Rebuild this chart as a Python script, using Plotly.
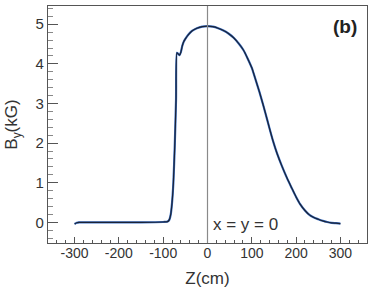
import plotly.graph_objects as go

# field map along the beam axis
z_cm = [-300, -295, -290, -250, -200, -150, -100, -90, -86, -83, -80, -77, -74, -71, -69,
        -66, -63, -60, -57, -54, -50, -43, -35, -24, -12, 0, 12, 24, 36, 48, 59, 70, 81,
        90, 100, 108, 117, 126, 135, 140, 148, 157, 168, 179, 190, 200, 209, 220, 230,
        239, 250, 260, 270, 280, 290, 300]
by_kg = [-0.04, -0.01, 0.0, 0.0, 0.0, 0.0, 0.01, 0.02, 0.07, 0.2, 0.5, 1.0, 1.9, 3.1, 4.28,
         4.25, 4.22, 4.3, 4.45, 4.55, 4.63, 4.74, 4.83, 4.9, 4.94, 4.95, 4.94, 4.9, 4.84,
         4.76, 4.66, 4.52, 4.35, 4.15, 3.9, 3.62, 3.3, 2.95, 2.58, 2.37, 2.05, 1.74, 1.42,
         1.13, 0.87, 0.64, 0.46, 0.3, 0.19, 0.13, 0.08, 0.04, 0.01, -0.01, -0.02, -0.03]

x_ticks = [-300, -200, -100, 0, 100, 200, 300]
x_labels = ['-300', '-200', '-100', '0', '100', '200', '300']
y_ticks = [0, 1, 2, 3, 4, 5]
y_labels = ['0', '1', '2', '3', '4', '5']

font = "Liberation Sans, Arial, sans-serif"
txt = "#333333"
axc = "#555555"

fig = go.Figure()
fig.add_trace(go.Scatter(x=z_cm, y=by_kg, mode='lines',
                         line=dict(color='#3b6fc4', width=2.2, shape='spline', smoothing=0.6),
                         hoverinfo='skip'))
fig.add_trace(go.Scatter(x=z_cm, y=by_kg, mode='lines',
                         line=dict(color='#1a2336', width=1.2, shape='spline', smoothing=0.6)))

fig.add_shape(type='line', x0=0, x1=0, y0=0, y1=1, xref='x', yref='paper',
              line=dict(color='#8a8a8a', width=1.2))

fig.add_annotation(x=0.975, y=0.915, xref='paper', yref='paper', text='<b>(b)</b>',
                   showarrow=False, xanchor='right', yanchor='middle',
                   font=dict(size=19, color='#222222', family=font))
fig.add_annotation(x=8, y=-0.05, text='x = y = 0', showarrow=False,
                   xanchor='left', yanchor='middle',
                   font=dict(size=17, color=txt, family=font))

fig.update_layout(
    width=374, height=295,
    margin=dict(l=48, r=7, t=6, b=52),
    paper_bgcolor='white', plot_bgcolor='white',
    showlegend=False,
    font=dict(family=font, color=txt),
)
fig.update_xaxes(range=[-360, 360], tickmode='array', tickvals=x_ticks, ticktext=x_labels,
                 automargin=False, ticklabelstandoff=-3,
                 showgrid=False, zeroline=False,
                 showline=True, linecolor=axc, linewidth=1.2, mirror=True,
                 ticks='inside', ticklen=6, tickcolor=axc,
                 minor=dict(ticks='inside', dtick=20, tick0=0, ticklen=3, tickcolor=axc),
                 tickfont=dict(size=14, color=txt),
                 title=dict(text='Z(cm)', font=dict(size=17, color=txt), standoff=12))
fig.update_yaxes(range=[-0.52, 5.46], tickmode='array', tickvals=y_ticks, ticktext=y_labels,
                 automargin=False,
                 showgrid=False, zeroline=False,
                 showline=True, linecolor=axc, linewidth=1.2, mirror=True,
                 ticks='inside', ticklen=10, tickcolor=axc,
                 minor=dict(ticks='inside', dtick=0.2, tick0=0, ticklen=5, tickcolor='#888888'),
                 tickfont=dict(size=15, color=txt),
                 title=dict(text='B<sub>y</sub>(kG)', font=dict(size=17, color=txt), standoff=13))

# the page body has a default 8px margin; drop it so the figure sits at the corner
fig.write_html("out.html", config={'displayModeBar': False},
               post_script="document.body.style.margin='0';")
